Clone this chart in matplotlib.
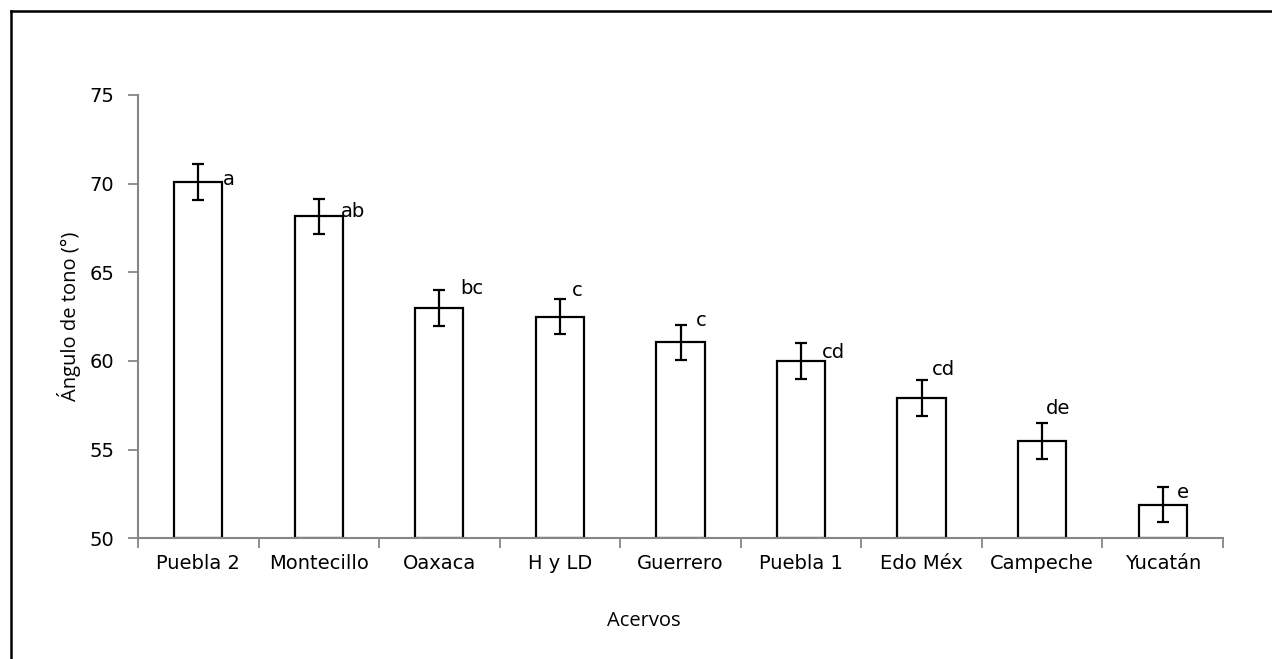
import matplotlib
matplotlib.use("Agg")
import matplotlib.pyplot as plt
from matplotlib.lines import Line2D
import numpy as np

categories = ["Puebla 2", "Montecillo", "Oaxaca", "H y LD", "Guerrero",
              "Puebla 1", "Edo Méx", "Campeche", "Yucatán"]
values = [70.1, 68.15, 63.0, 62.5, 61.05, 60.0, 57.9, 55.5, 51.9]
errors = [1.0, 1.0, 1.0, 1.0, 1.0, 1.0, 1.0, 1.0, 1.0]
letters = ["a", "ab", "bc", "c", "c", "cd", "cd", "de", "e"]
letter_y = [70.26, 68.43, 64.1, 64.0, 62.3, 60.46, 59.5, 57.3, 52.57]
letter_dx = [0.25, 0.28, 0.27, 0.14, 0.17, 0.27, 0.18, 0.13, 0.17]
yticks = [50, 55, 60, 65, 70, 75]

W, H = 1272, 659
fig = plt.figure(figsize=(W / 100, H / 100), dpi=100)
ax = fig.add_axes([138 / W, 1 - 538.3 / H, (1223 - 138) / W, (538.3 - 95) / H])

x = np.arange(len(categories)) + 0.5
ax.bar(x, np.array(values) - 50, bottom=50, width=0.4, color="white",
       edgecolor="black", linewidth=1.6, zorder=2)
ax.errorbar(x, values, yerr=errors, fmt="none", ecolor="black",
            elinewidth=1.6, capsize=4.5, capthick=1.6, zorder=3)

font = "DejaVu Sans"
fs = 14
for xi, dx, ly, lab in zip(x, letter_dx, letter_y, letters):
    ax.text(xi + dx, ly, lab, ha="center", va="center", fontsize=fs,
            fontfamily=font, zorder=4)

ax.set_xlim(0, len(categories))
ax.set_ylim(50, 75)
ax.set_yticks(yticks)
ax.set_yticklabels([str(t) for t in yticks], fontfamily=font, fontsize=fs)
ax.set_xticks(np.arange(len(categories) + 1))
ax.set_xticklabels([])
ax.set_xticks(x, minor=True)
ax.set_xticklabels(categories, minor=True, fontfamily=font, fontsize=fs)
ax.tick_params(axis="x", which="minor", length=0, pad=11)
ax.tick_params(axis="x", which="major", length=7, width=1.3, color="#868686",
               direction="out")
ax.tick_params(axis="y", length=7, width=1.3, color="#868686", direction="out",
               pad=10)

for s in ["top", "right"]:
    ax.spines[s].set_visible(False)
for s in ["left", "bottom"]:
    ax.spines[s].set_color("#868686")
    ax.spines[s].set_linewidth(1.5)

fig.text(69 / W, 1 - 316.5 / H, "Ángulo de tono (°)", rotation=90,
         ha="center", va="center", fontsize=14.5, fontfamily="Open Sans")
fig.text(644 / W, 1 - 621 / H, "Acervos", ha="center", va="center",
         fontsize=14.5, fontfamily="Open Sans")

# outer frame (left and top edges visible)
fig.add_artist(Line2D([10.5 / W, 10.5 / W], [0, 1 - 10.5 / H], color="black",
                      linewidth=1.8, transform=fig.transFigure))
fig.add_artist(Line2D([10.5 / W, 1], [1 - 10.5 / H, 1 - 10.5 / H],
                      color="black", linewidth=1.8, transform=fig.transFigure))

fig.savefig("out.png", dpi=100)
